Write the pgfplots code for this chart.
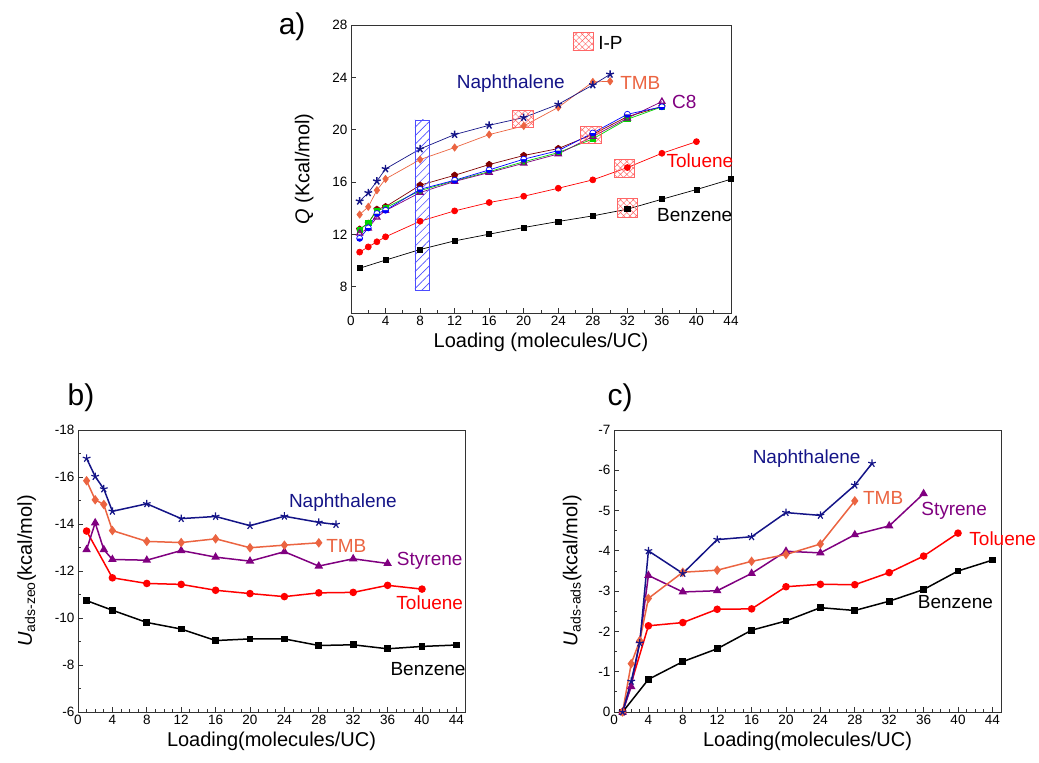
\documentclass[border=0pt]{standalone}
\usepackage{pgfplots}
\pgfplotsset{compat=1.18}
\usepackage{fontspec}
\setmainfont{Liberation Sans}
\usetikzlibrary{patterns,patterns.meta}
\definecolor{nav}{RGB}{20,20,135}
\definecolor{tmb}{RGB}{235,100,65}
\definecolor{pur}{RGB}{128,0,128}
\definecolor{mar}{RGB}{128,0,0}
\definecolor{grn}{RGB}{0,210,0}
\pgfplotsset{
  base/.style={scale only axis, anchor=south west, clip=false,
    tick align=inside, xtick pos=left, ytick pos=left,
    /pgf/number format/assume math mode=true,
    tick label style={font=\fontsize{13.5}{15}\selectfont},
    label style={font=\fontsize{20}{24}\selectfont},
    axis line style={line width=0.9pt, black!80},
    every tick/.style={black!80, line width=0.8pt},
    major tick length=5pt, minor tick length=3pt},
}
\tikzset{
  lbl/.style={font=\fontsize{19}{22}\selectfont, anchor=center},
  lthin/.style={line width=0.7pt},
  lthick/.style={line width=1.5pt},
  ipbox/.style={draw=red!60, line width=0.8pt, pattern={Hatch[angle=45,distance=4.5pt,line width=0.5pt]}, pattern color=red!60},
}
\begin{document}
\begin{tikzpicture}[x=1pt,y=1pt]
\useasboundingbox (0,0) rectangle (1039,763);
% ---------------- panel a
\begin{axis}[base, at={(351pt,450pt)}, width=380pt, height=288pt,
  xmin=0, xmax=44, ymin=6, ymax=28,
  xtick={0,4,...,44}, minor xtick={2,6,...,42}, ytick={8,12,...,28},
  ylabel shift=12pt,
  xlabel={Loading (molecules/UC)}, ylabel={\textit{Q} (Kcal/mol)}]
\addplot[lthin, black, mark=square*, mark size=2.6pt] coordinates {(1,9.42)(4,10.04)(8,10.85)(12,11.51)(16,12.02)(20,12.53)(24,12.99)(28,13.42)(32,13.93)(36,14.69)(40,15.43)(44,16.22)};
\addplot[lthin, red, mark=*, mark size=3pt] coordinates {(1,10.65)(2,11.05)(3,11.44)(4,11.82)(8,13.01)(12,13.80)(16,14.44)(20,14.92)(24,15.53)(28,16.17)(32,17.11)(36,18.20)(40,19.09)};
\addplot[lthin, mar, mark=pentagon*, mark size=3.3pt] coordinates {(1,12.4)(2,12.85)(3,13.92)(4,14.12)(8,15.76)(12,16.52)(16,17.34)(20,18.03)(24,18.56)(28,19.65)(32,21.0)(36,21.77)};
\addplot[lthin, grn, mark=square*, mark size=2.6pt] coordinates {(1,12.36)(2,12.9)(3,13.81)(4,14.04)(8,15.35)(12,16.1)(16,16.8)(20,17.55)(24,18.25)(28,19.3)(32,20.8)(36,21.75)};
\addplot[lthin, pur, mark=triangle, mark size=3.5pt, mark options={line width=1.2pt}] coordinates {(1,12.09)(2,12.47)(3,13.31)(4,13.82)(8,15.2)(12,16.05)(16,16.73)(20,17.44)(24,18.15)(28,19.48)(32,20.88)(36,22.15)};
\addplot[lthin, blue, mark=halfcircle*, mark size=3pt, mark options={fill=blue, rotate=180}] coordinates {(1,11.7)(2,12.5)(3,13.6)(4,13.85)(8,15.45)(12,16.14)(16,16.93)(20,17.75)(24,18.4)(28,19.75)(32,21.18)(36,21.75)};
\addplot[lthin, tmb, mark=diamond*, mark size=3.6pt] coordinates {(1,13.52)(2,14.11)(3,15.38)(4,16.24)(8,17.72)(12,18.64)(16,19.63)(20,20.29)(24,21.71)(28,23.65)(30,23.7)};
\addplot[lthin, nav, mark=star, mark size=4pt, mark options={fill=nav, line width=1.4pt}] coordinates {(1,14.54)(2,15.18)(3,16.07)(4,17.01)(8,18.53)(12,19.63)(16,20.34)(20,20.93)(24,21.94)(28,23.42)(30,24.23)};
\draw[blue!70, line width=0.8pt, pattern={Lines[angle=45,distance=6pt,line width=0.6pt]}, pattern color=blue!70] (axis cs:7.4,7.69) rectangle (axis cs:9.05,20.75);
\draw[ipbox] (axis cs:18.7,20.15) rectangle (axis cs:21.1,21.5);
\draw[ipbox] (axis cs:26.6,18.96) rectangle (axis cs:29.0,20.23);
\draw[ipbox] (axis cs:30.5,16.39) rectangle (axis cs:32.85,17.76);
\draw[ipbox] (axis cs:30.9,13.31) rectangle (axis cs:33.2,14.76);
\draw[ipbox] (axis cs:25.7,26.03) rectangle (axis cs:28.1,27.44);
\node[lbl] at (axis cs:30.05,26.66) {I-P};
\node[lbl, text=nav] at (axis cs:18.5,23.49) {Naphthalene};
\node[lbl, text=tmb] at (axis cs:33.5,23.6) {TMB};
\node[lbl, text=pur] at (axis cs:38.6,22.14) {C8};
\node[lbl, text=red] at (axis cs:40.4,17.63) {Toluene};
\node[lbl] at (axis cs:39.8,13.48) {Benzene};
\node[font=\fontsize{30}{32}\selectfont] at (rel axis cs:-0.155,0.993) {a)};
\end{axis}
% ---------------- panel b
\begin{axis}[base, at={(78pt,51pt)}, width=387pt, height=282pt,
  xmin=0, xmax=45, ymin=-18, ymax=-6, y dir=reverse,
  xtick={0,4,...,44}, minor x tick num=3, ytick={-18,-16,...,-6}, minor y tick num=1,
  ylabel shift=12pt,
  xlabel={Loading(molecules/UC)}, ylabel={\textit{U}\textsubscript{ads-zeo}(kcal/mol)}]
\addplot[lthick, black, mark=square*, mark size=2.6pt] coordinates {(1,-10.74)(4,-10.33)(8,-9.81)(12,-9.53)(16,-9.04)(20,-9.11)(24,-9.11)(28,-8.83)(32,-8.86)(36,-8.69)(40,-8.79)(44,-8.85)};
\addplot[lthick, red, mark=*, mark size=3pt] coordinates {(1,-13.70)(4,-11.71)(8,-11.47)(12,-11.43)(16,-11.18)(20,-11.04)(24,-10.91)(28,-11.07)(32,-11.09)(36,-11.39)(40,-11.23)};
\addplot[lthick, pur, mark=triangle*, mark size=3.5pt] coordinates {(1,-12.91)(2,-14.05)(3,-12.91)(4,-12.49)(8,-12.46)(12,-12.87)(16,-12.59)(20,-12.42)(24,-12.82)(28,-12.21)(32,-12.52)(36,-12.32)};
\addplot[lthick, tmb, mark=diamond*, mark size=3.6pt] coordinates {(1,-15.84)(2,-15.03)(3,-14.83)(4,-13.72)(8,-13.26)(12,-13.21)(16,-13.37)(20,-12.99)(24,-13.10)(28,-13.20)};
\addplot[lthick, nav, mark=star, mark size=4pt, mark options={line width=1.2pt}] coordinates {(1,-16.79)(2,-16.02)(3,-15.49)(4,-14.54)(8,-14.86)(12,-14.23)(16,-14.32)(20,-13.93)(24,-14.33)(28,-14.07)(30,-13.98)};
\node[lbl, text=nav] at (axis cs:30.8,-14.89) {Naphthalene};
\node[lbl, text=tmb] at (axis cs:31.2,-13.05) {TMB};
\node[lbl, text=pur] at (axis cs:40.9,-12.45) {Styrene};
\node[lbl, text=red] at (axis cs:40.9,-10.67) {Toluene};
\node[lbl] at (axis cs:40.7,-7.81) {Benzene};
\node[font=\fontsize{30}{32}\selectfont] at (axis cs:0.35,-19.36) {b)};
\end{axis}
% ---------------- panel c
\begin{axis}[base, at={(614pt,51pt)}, width=387pt, height=282pt,
  xmin=0, xmax=45, ymin=-7, ymax=0, y dir=reverse,
  xtick={0,4,...,44}, minor x tick num=3, ytick={-7,-6,...,0}, minor y tick num=1,
  ylabel shift=10pt,
  xlabel={Loading(molecules/UC)}, ylabel={\textit{U}\textsubscript{ads-ads}(kcal/mol)}]
\addplot[lthick, black, mark=square*, mark size=2.6pt] coordinates {(1,0)(4,-0.81)(8,-1.25)(12,-1.57)(16,-2.03)(20,-2.26)(24,-2.59)(28,-2.52)(32,-2.75)(36,-3.04)(40,-3.50)(44,-3.77)};
\addplot[lthick, red, mark=*, mark size=3pt] coordinates {(1,0)(4,-2.14)(8,-2.22)(12,-2.55)(16,-2.56)(20,-3.11)(24,-3.17)(28,-3.16)(32,-3.46)(36,-3.87)(40,-4.44)};
\addplot[lthick, pur, mark=triangle*, mark size=3.5pt] coordinates {(1,0)(2,-0.63)(3,-1.77)(4,-3.39)(8,-2.98)(12,-3.01)(16,-3.44)(20,-3.99)(24,-3.95)(28,-4.40)(32,-4.62)(36,-5.42)};
\addplot[lthick, tmb, mark=diamond*, mark size=3.6pt] coordinates {(1,0)(2,-1.20)(3,-1.77)(4,-2.82)(8,-3.47)(12,-3.52)(16,-3.74)(20,-3.91)(24,-4.17)(28,-5.24)};
\addplot[lthick, nav, mark=star, mark size=4pt, mark options={line width=1.2pt}] coordinates {(1,0)(2,-0.76)(3,-1.71)(4,-4.00)(8,-3.44)(12,-4.28)(16,-4.35)(20,-4.95)(24,-4.88)(28,-5.63)(30,-6.17)};
\node[lbl, text=nav] at (axis cs:22.4,-6.29) {Naphthalene};
\node[lbl, text=tmb] at (axis cs:31.3,-5.31) {TMB};
\node[lbl, text=pur] at (axis cs:39.55,-4.99) {Styrene};
\node[lbl, text=red] at (axis cs:45.2,-4.30) {Toluene};
\node[lbl] at (axis cs:39.7,-2.73) {Benzene};
\node[font=\fontsize{30}{32}\selectfont] at (axis cs:0.7,-7.79) {c)};
\end{axis}
\end{tikzpicture}
\end{document}
